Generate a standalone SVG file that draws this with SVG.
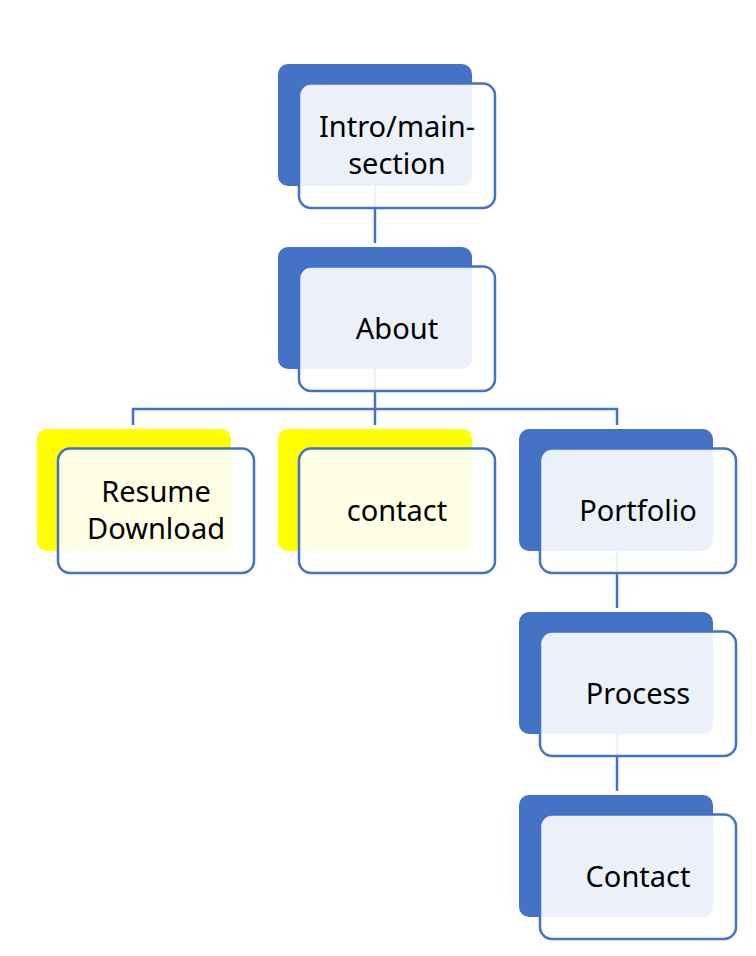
<svg xmlns="http://www.w3.org/2000/svg" width="756" height="956" viewBox="0 0 756 956">
<style>
.bb{fill:#4472C4}
.by{fill:#FFFF00}
.fr{fill:#FFFFFF;fill-opacity:0.9;stroke:#4472C4;stroke-width:2.5}
.cn{fill:none;stroke:#4472C4;stroke-width:2.5}
text{font-family:"Noto Sans","Open Sans",sans-serif;font-size:29px;fill:#000;text-anchor:middle}
</style>
<rect width="756" height="956" fill="#FFFFFF"/>
<g id="connectors">
<path class="cn" d="M375 186V243"/>
<path class="cn" d="M375 369V425M133 425V409H617V425"/>
<path class="cn" d="M617 551V608"/>
<path class="cn" d="M617 734V791"/>
</g>
<g id="node-intro">
<rect class="bb" x="278" y="64" width="194" height="122" rx="10"/>
<rect class="fr" x="299" y="83.5" width="196" height="124.5" rx="12"/>
<text x="397" y="137">Intro/main-</text>
<text x="397" y="174">section</text>
</g>
<g id="node-about">
<rect class="bb" x="278" y="247" width="194" height="122" rx="10"/>
<rect class="fr" x="299" y="266.5" width="196" height="124.5" rx="12"/>
<text x="397" y="338.5">About</text>
</g>
<g id="node-resume">
<rect class="by" x="37" y="429" width="194" height="122" rx="10"/>
<rect class="fr" x="58" y="448.5" width="196" height="124.5" rx="12"/>
<text x="156" y="502">Resume</text>
<text x="156" y="539">Download</text>
</g>
<g id="node-contact-yellow">
<rect class="by" x="278" y="429" width="194" height="122" rx="10"/>
<rect class="fr" x="299" y="448.5" width="196" height="124.5" rx="12"/>
<text x="397" y="520.5">contact</text>
</g>
<g id="node-portfolio">
<rect class="bb" x="519" y="429" width="194" height="122" rx="10"/>
<rect class="fr" x="540" y="448.5" width="196" height="124.5" rx="12"/>
<text x="638" y="520.5">Portfolio</text>
</g>
<g id="node-process">
<rect class="bb" x="519" y="612" width="194" height="122" rx="10"/>
<rect class="fr" x="540" y="631.5" width="196" height="124.5" rx="12"/>
<text x="638" y="703.5">Process</text>
</g>
<g id="node-contact">
<rect class="bb" x="519" y="795" width="194" height="122" rx="10"/>
<rect class="fr" x="540" y="814.5" width="196" height="124.5" rx="12"/>
<text x="638" y="886.5">Contact</text>
</g>
</svg>
